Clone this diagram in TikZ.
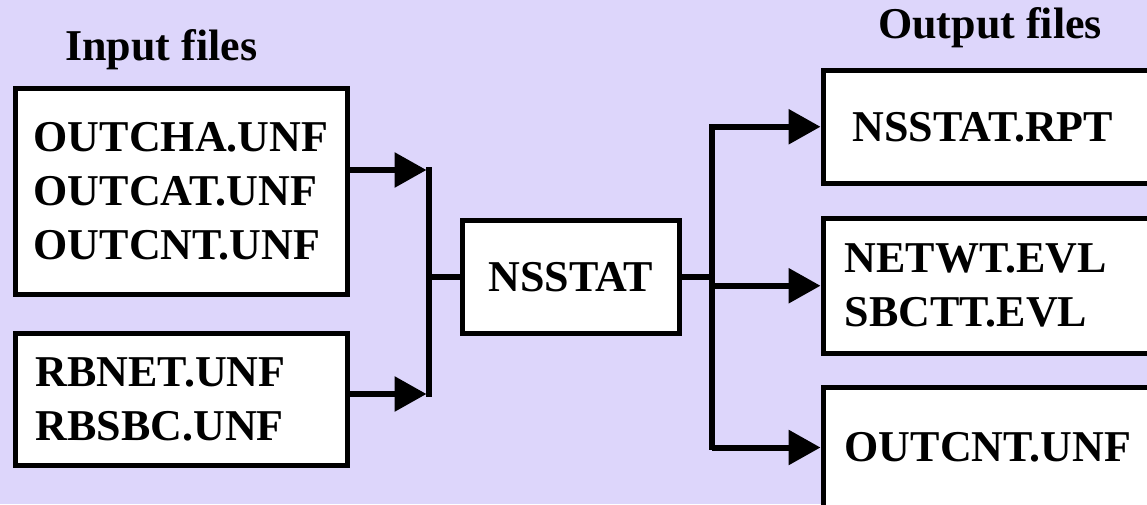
\documentclass[tikz,border=0pt]{standalone}
\usepackage{fontspec}
\setmainfont{LiberationSerif}[Extension=.ttf,UprightFont=*-Regular,
  BoldFont=*-Bold]
\usetikzlibrary{arrows.meta}
\definecolor{lilla}{RGB}{221,214,251}

\begin{document}
\begin{tikzpicture}[x=1pt,y=-1pt,
   testo/.style={font=\bfseries\fontsize{44}{54}\selectfont},
   file/.style={testo,draw,line width=5.5pt,fill=white,anchor=north west,
     align=left,inner xsep=18.5pt,inner ysep=0pt},
   freccia/.style={line width=6pt,-{Triangle[length=32pt,width=34pt]}},
   linea/.style={line width=5.5pt,line cap=rect}]
% sfondo
   \useasboundingbox (0,0) rectangle (1147,504);
   \clip (0,0) rectangle (1147,504);
   \fill[lilla] (0,0) rectangle (1147,504);
% titoli
   \node[testo,anchor=base west,inner sep=0pt] (tin) at (65,60) {Input files};
   \node[testo,anchor=base west,inner sep=0pt] (tout) at (878,38) {Output files};
% file di ingresso
   \node[file,text width=295pt,minimum height=206pt] (in1) at (12.5,85.5)
   {OUTCHA.UNF\\OUTCAT.UNF\\OUTCNT.UNF};
   \node[file,text width=291pt,inner xsep=20.5pt,minimum height=132pt] (in2)
   at (12.5,330.5) {RBNET.UNF\\RBSBC.UNF};
% programma
   \node[file,align=center,text width=173pt,inner xsep=22pt,minimum height=113pt]
   (ns) at (459.5,217.5) {NSSTAT};
% file di uscita
   \node[file,text width=330pt,inner xsep=29.5pt,minimum height=113pt] (out1)
   at (820.5,67.5) {NSSTAT.RPT};
   \node[file,text width=330pt,inner xsep=21.5pt,minimum height=135pt] (out2)
   at (820.5,215.5) {NETWT.EVL\\SBCTT.EVL};
   \node[file,text width=330pt,inner xsep=21.5pt,minimum height=120.5pt] (out3)
   at (820.5,384.5) {OUTCNT.UNF};
% collegamenti
   \coordinate (a1) at (429,170); \coordinate (a2) at (429,394);
   \coordinate (b) at (712,275);
   \draw[freccia,shorten >=2.5pt] (in1.east |- a1) -- (a1);
   \draw[freccia,shorten >=2.5pt] (in2.east |- a2) -- (a2);
   \draw[linea] (a1) -- (a2);
   \draw[linea] (ns.west -| a1) -- (ns.west);
   \draw[linea] (ns.east) -- (ns.east -| b);
   \draw[linea] (b |- out1.west) -- (b |- out3.west);
   \foreach \o in {out1,out2,out3} \draw[freccia] (b |- \o.west) -- (\o.west);
 \end{tikzpicture}
\end{document}
